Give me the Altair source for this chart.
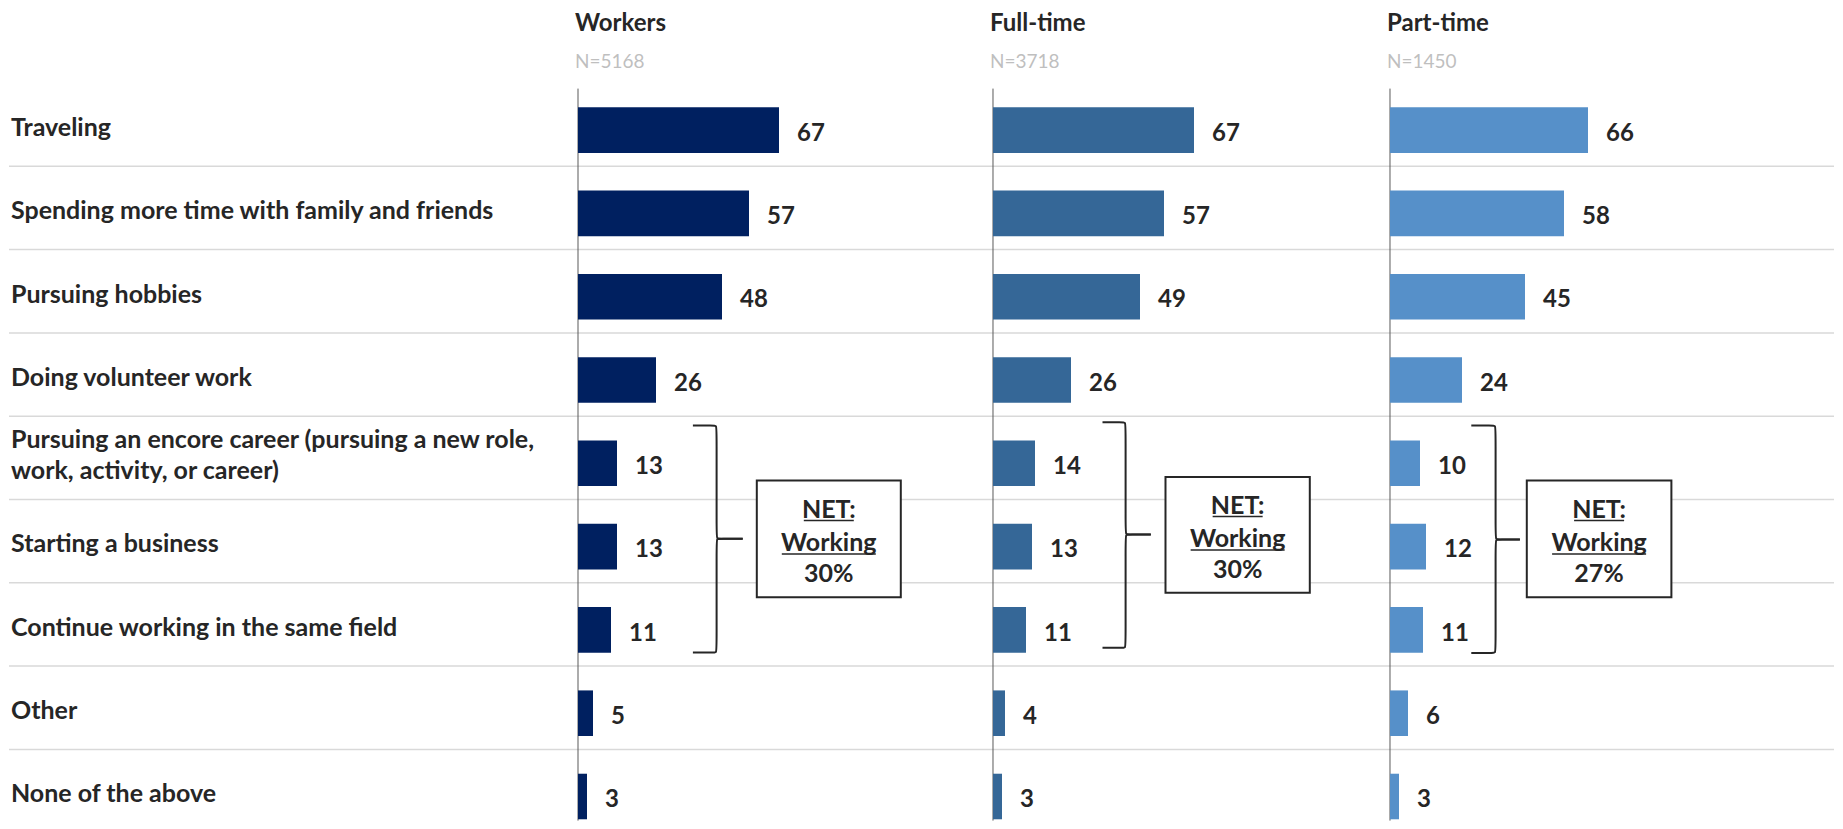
import altair as alt
import pandas as pd

# ---------------- data ----------------
categories = [
    "Traveling",
    "Spending more time with family and friends",
    "Pursuing hobbies",
    "Doing volunteer work",
    "Pursuing an encore career (pursuing a new role,\nwork, activity, or career)",
    "Starting a business",
    "Continue working in the same field",
    "Other",
    "None of the above",
]
groups = ["Workers", "Full-time", "Part-time"]
sample_sizes = ["N=5168", "N=3718", "N=1450"]
workers = [67, 57, 48, 26, 13, 13, 11, 5, 3]
full_time = [67, 57, 49, 26, 14, 13, 11, 4, 3]
part_time = [66, 58, 45, 24, 10, 12, 11, 6, 3]
net_working = [30, 30, 27]
net_lines = ["NET:", "Working"]

# ---------------- style / layout ----------------
colors = ["#002060", "#356797", "#5690C9"]
TXT = "#262626"
SEP = "#D9D9D9"
AXIS = "#595959"
FONT = "Lato"
ROW = 83.3
PLOT_H = 737.6
Y_MAX = PLOT_H / ROW
LABEL_W = 569
PANEL_W = [415, 397, 444]
PX_PER_UNIT = 3.0
LINE_H = 31.5

# brace: left, vertical, tip (x in %), top, mid, bottom (y in rows)
brace_geom = [
    (38.3, 46.2, 54.9, 4.113, 5.470, 6.838),
    (36.5, 44.2, 52.6, 4.073, 5.421, 6.781),
    (27.1, 35.2, 43.3, 4.113, 5.481, 6.842),
]
# NET box: x0, x1 (in %), y0, y1 (in rows)
box_geom = [
    (59.6, 107.6, 4.773, 6.174),
    (57.5, 105.6, 4.729, 6.121),
    (45.6, 93.8, 4.773, 6.174),
]
box_line_dy = [-29.0, 4.0, 35.5]  # px from box centre
underline_w = [50, 94]  # px
underline_dy = [-18.5, 15.0]  # px from box centre

ys = alt.Scale(domain=[0, Y_MAX], reverse=True, nice=False, zero=False)


def Y(field):
    return alt.Y(field, type="quantitative", scale=ys, axis=None)


def separators(width):
    df = pd.DataFrame({"b": list(range(1, len(categories)))})
    return alt.Chart(df).mark_rule(color=SEP, strokeWidth=1.5).encode(
        y=Y("b"), x=alt.value(0), x2=alt.value(width)
    )


def label_panel():
    df = pd.DataFrame({
        "cat": categories,
        "idx": list(range(len(categories))),
        "nl": [c.count("\n") for c in categories],
    })
    text = (
        alt.Chart(df)
        .transform_calculate(yc=f"datum.idx + 0.54 - datum.nl * {LINE_H / 2 / ROW + 0.07}")
        .mark_text(
            align="left", baseline="middle", lineBreak="\n", lineHeight=LINE_H,
            font=FONT, fontSize=25, fontWeight="bold", color=TXT,
        )
        .encode(x=alt.value(2), y=Y("yc"), text="cat:N")
    )
    return alt.layer(separators(LABEL_W), text).properties(width=LABEL_W, height=PLOT_H)


def data_panel(i, values):
    W = PANEL_W[i]
    xs = alt.Scale(domain=[0, W / PX_PER_UNIT], nice=False, zero=False)
    X = lambda f: alt.X(f, type="quantitative", scale=xs, axis=None)
    df = pd.DataFrame({"cat": categories, "idx": list(range(len(categories))), "value": values})

    axis_line = alt.Chart(pd.DataFrame({"z": [0]})).mark_rule(color=AXIS, strokeWidth=1).encode(
        x=X("z"), y=alt.value(5.6), y2=alt.value(PLOT_H)
    )
    bars = (
        alt.Chart(df)
        .transform_calculate(y0="datum.idx + 0.292", y1="datum.idx + 0.839", z="0")
        .mark_rect(color=colors[i])
        .encode(x=X("value"), x2="z:Q", y=Y("y0"), y2="y1:Q")
    )
    labels = (
        alt.Chart(df)
        .transform_calculate(yc="datum.idx + 0.61")
        .mark_text(align="left", baseline="middle", dx=18, font=FONT, fontSize=24,
                   fontWeight="bold", color=TXT)
        .encode(x=X("value"), y=Y("yc"), text="value:Q")
    )

    L, V, T, t, m, b = brace_geom[i]
    dx, dy = 1.3, 0.06
    upper = [(L, t), (V - dx, t), (V, t), (V, t + dy), (V, m - dy), (V, m), (V + dx, m), (T, m)]
    lower = [(T, m), (V + dx, m), (V, m), (V, m + dy), (V, b - dy), (V, b), (V - dx, b), (L, b)]
    rows = [{"x": x, "y": y, "seg": "u", "o": k} for k, (x, y) in enumerate(upper)]
    rows += [{"x": x, "y": y, "seg": "l", "o": k} for k, (x, y) in enumerate(lower)]
    brace = alt.Chart(pd.DataFrame(rows)).mark_line(
        interpolate="basis", color=TXT, strokeWidth=2
    ).encode(x=X("x"), y=Y("y"), detail="seg:N", order="o:Q")

    x0, x1, y0, y1 = box_geom[i]
    cx, cy = (x0 + x1) / 2, (y0 + y1) / 2
    box_df = pd.DataFrame({"x0": [x0], "x1": [x1], "y0": [y0], "y1": [y1]})
    box = alt.Chart(box_df).mark_rect(fill="white", stroke=TXT, strokeWidth=2).encode(
        x=X("x0"), x2="x1:Q", y=Y("y0"), y2="y1:Q"
    )
    lines = net_lines + [f"{net_working[i]}%"]
    txt_df = pd.DataFrame({
        "t": lines,
        "cx": [cx] * 3,
        "cy": [cy + d / ROW for d in box_line_dy],
    })
    box_text = alt.Chart(txt_df).mark_text(
        align="center", baseline="middle",
        font=FONT, fontSize=25, fontWeight="bold", color=TXT,
    ).encode(x=X("cx"), y=Y("cy"), text="t:N")
    ul_df = pd.DataFrame({
        "ux0": [cx - w / 2 / PX_PER_UNIT for w in underline_w],
        "ux1": [cx + w / 2 / PX_PER_UNIT for w in underline_w],
        "uy": [cy + d / ROW for d in underline_dy],
    })
    underline = alt.Chart(ul_df).mark_rule(color=TXT, strokeWidth=1.5).encode(
        x=X("ux0"), x2="ux1:Q", y=Y("uy")
    )

    title = alt.TitleParams(
        groups[i], subtitle=sample_sizes[i], anchor="start", frame="group", dx=-3,
        font=FONT, fontSize=24, fontWeight="bold", color=TXT,
        subtitleFont=FONT, subtitleFontSize=19, subtitleColor="#BFBFBF",
        subtitlePadding=17, offset=11,
    )
    return alt.layer(
        separators(W), axis_line, bars, labels, brace, box, box_text, underline
    ).properties(width=W, height=PLOT_H, title=title)


chart = (
    alt.hconcat(
        label_panel(),
        data_panel(0, workers),
        data_panel(1, full_time),
        data_panel(2, part_time),
        spacing=0,
        bounds="flush",
    )
    .properties(padding={"top": 4, "left": 0, "right": 0, "bottom": 0}, background="white")
    .configure_view(stroke=None)
)

chart.save("out.html", embed_options={"renderer": "svg", "actions": False})
